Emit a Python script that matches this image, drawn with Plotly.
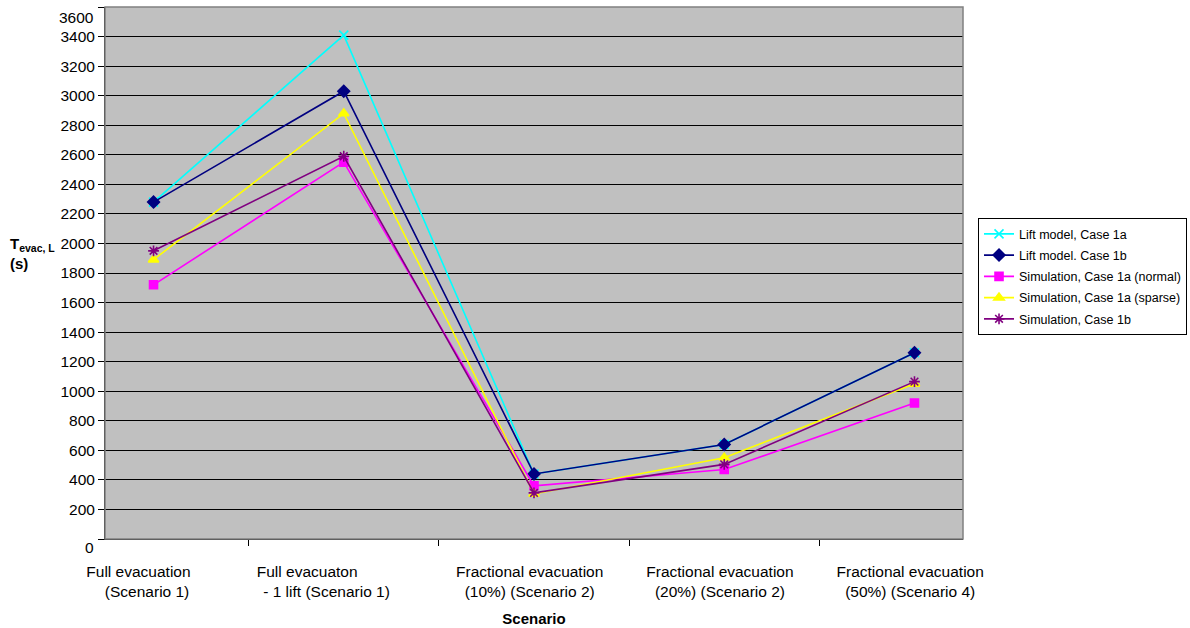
import plotly.graph_objects as go

NB = "\u00a0"
categories = [
    "Full evacuation" + NB * 7 + "<br>(Scenario 1)" + NB * 3,
    "Full evacuaton" + NB * 17 + "<br>- 1 lift (Scenario 1)" + NB * 8,
    "Fractional evacuation" + NB * 2 + "<br>(10%) (Scenario 2)" + NB * 2,
    "Fractional evacuation" + NB * 2 + "<br>(20%) (Scenario 2)" + NB * 2,
    "Fractional evacuation" + NB * 2 + "<br>(50%) (Scenario 4)" + NB * 2,
]
lift_1a = [2280, 3410, 440, 640, 1260]
lift_1b = [2280, 3030, 440, 640, 1260]
sim_1a_normal = [1720, 2550, 360, 470, 920]
sim_1a_sparse = [1890, 2880, 305, 550, 1050]
sim_1b = [1950, 2590, 312, 505, 1065]
y_ticks = list(range(0, 3601, 200))
y_ticktext = ["" if v in (0, 3600) else str(v) for v in y_ticks]

series = [
    ("Lift model, Case 1a", lift_1a, "#00FFFF", "x-thin-open", 9),
    ("Lift model. Case 1b", lift_1b, "#000080", "diamond", 9),
    ("Simulation, Case 1a (normal)", sim_1a_normal, "#FF00FF", "square", 8),
    ("Simulation, Case 1a (sparse)", sim_1a_sparse, "#FFFF00", "triangle-up", 9),
    ("Simulation, Case 1b", sim_1b, "#800080", "asterisk-open", 9),
]

fig = go.Figure()
for i, (name, vals, color, sym, size) in enumerate(series):
    fig.add_trace(go.Scatter(
        x=categories, y=vals, name=name, mode="lines+markers",
        legendgroup=f"g{i}",
        line=dict(color=color, width=1.6),
        marker=dict(color=color, symbol=sym, size=size,
                    line=dict(color=color, width=1.6)),
    ))

FONT = "Arial, Liberation Sans, sans-serif"
fig.update_layout(
    width=1190, height=628,
    margin=dict(l=105, r=227, t=7, b=89, autoexpand=False),
    paper_bgcolor="white",
    plot_bgcolor="#C0C0C0",
    font=dict(family=FONT, size=15.5, color="black"),
    showlegend=True,
    legend=dict(
        x=1.0175, y=0.603, xanchor="left", yanchor="top",
        bgcolor="white", bordercolor="black", borderwidth=1,
        font=dict(size=12.5, color="black"),
        tracegroupgap=2,
    ),
)
fig.update_xaxes(
    type="category", tickson="boundaries", automargin=False,
    showgrid=False, ticks="outside", ticklen=6, tickcolor="black",
    showline=True, linecolor="black", linewidth=1, mirror=False,
    ticklabelstandoff=18,
    title=dict(text="<b>Scenario</b>", font=dict(size=15), standoff=14),
    tickfont=dict(size=15.5),
)
fig.update_yaxes(
    range=[0, 3600], tickvals=y_ticks, ticktext=y_ticktext, automargin=False,
    showgrid=True, gridcolor="black", gridwidth=1,
    ticks="outside", ticklen=6, tickcolor="black",
    showline=True, linecolor="black", linewidth=1,
    zeroline=False, tickfont=dict(size=15.5),
)
# end labels of the value axis sit slightly inside the chart in the reference
for v, shift in ((3600, -10), (0, -8)):
    fig.add_annotation(
        text=str(v), xref="paper", yref="y", x=0, y=v, xanchor="right",
        xshift=-9, yshift=shift, showarrow=False, font=dict(size=15.5),
    )
fig.add_shape(type="rect", xref="paper", yref="paper", x0=0, y0=0, x1=1, y1=1,
              line=dict(color="#808080", width=1.5), layer="above")
fig.add_annotation(
    text="<b>T<sub>evac, L</sub></b><br><b>(s)</b>",
    xref="paper", yref="paper", x=-0.113, y=0.575, xanchor="left", yanchor="top",
    showarrow=False, align="left", font=dict(size=15),
)

fig.write_html("out.html", config={"displayModeBar": False},
               post_script="document.body.style.margin='0';")
